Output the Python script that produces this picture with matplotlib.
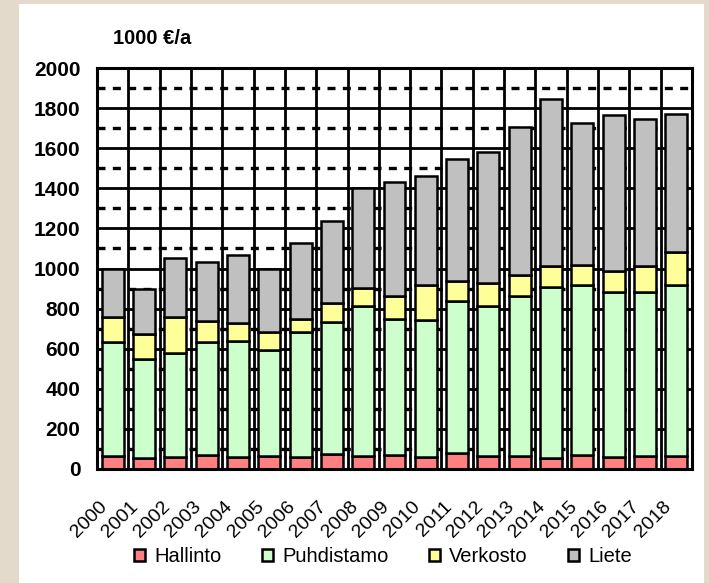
import numpy as np
import matplotlib
matplotlib.use('Agg')
import matplotlib.pyplot as plt
import matplotlib.transforms as mtransforms
from matplotlib.patches import Rectangle, Patch

plt.rcParams['font.family'] = ['Liberation Sans', 'DejaVu Sans']

years = [str(y) for y in range(2000, 2019)]
series = ['Hallinto', 'Puhdistamo', 'Verkosto', 'Liete']
hallinto = [66, 56, 61, 70, 61, 63, 61, 75, 63, 70, 61, 78, 65, 65, 56, 70, 61, 65, 65]
puhdistamo = [569, 491, 519, 565, 579, 531, 624, 660, 752, 678, 682, 760, 748, 799, 853, 849, 820, 816, 853]
verkosto = [121, 125, 176, 105, 90, 88, 62, 91, 87, 115, 177, 100, 113, 102, 105, 98, 108, 133, 166]
liete = [240, 227, 298, 294, 337, 314, 382, 409, 500, 570, 541, 607, 655, 741, 831, 710, 777, 732, 687]
colors = ['#FF8080', '#CCFFCC', '#FFFF99', '#C0C0C0']
y_ticks = list(range(0, 2001, 200))

W, H = 709, 583
fig = plt.figure(figsize=(W / 100, H / 100), dpi=100)
fig.patch.set_facecolor('#E3DACB')
# white panel
fig.patches.append(Rectangle((19 / W, 0), (704 - 19) / W, (583 - 4) / H,
                             transform=fig.transFigure, facecolor='white',
                             edgecolor='none', zorder=-5))

ax = fig.add_axes([97 / W, (H - 469) / H, (692 - 97) / W, (469 - 68) / H])
ax.set_zorder(2)
ax.set_facecolor('white')
x = np.arange(len(years))

# grid
for v in range(100, 2000, 200):
    ax.axhline(v, color='black', lw=2.4, ls=(0, (2.4, 2.2)), zorder=1)
for v in range(200, 2000, 200):
    ax.axhline(v, color='black', lw=2, zorder=1)
for b in np.arange(0.5, len(years) - 1, 1):
    ax.axvline(b, color='black', lw=2, zorder=1)

bottom = np.zeros(len(years))
for name, vals, c in zip(series, [hallinto, puhdistamo, verkosto, liete], colors):
    ax.bar(x, vals, width=0.7, bottom=bottom, color=c, edgecolor='black',
           linewidth=1.8, zorder=2, label=name)
    bottom += np.array(vals)

ax.set_xlim(-0.5, len(years) - 0.5)
ax.set_ylim(0, 2000)
ax.set_yticks(y_ticks)
ax.set_yticklabels([str(v) for v in y_ticks], fontweight='bold', fontsize=15)
ax.set_xticks(x)
ax.set_xticklabels(years, rotation=45, ha='right', va='center',
                   rotation_mode='anchor', fontsize=14)
ax.tick_params(axis='y', length=0, pad=12)
ax.tick_params(axis='x', length=0, pad=25)
shift = mtransforms.ScaledTranslation(-0.08, 0, fig.dpi_scale_trans)
for lab in ax.get_xticklabels():
    lab.set_transform(lab.get_transform() + shift)
for s in ax.spines.values():
    s.set_linewidth(2.2)
    s.set_zorder(3)

fig.text(113 / W, (H - 38) / H, '1000 €/a', fontsize=14.5, fontweight='bold',
         va='center', ha='left')

handles = [Patch(facecolor=c, edgecolor='black', linewidth=1.8) for c in colors]
fig.legend(handles, series, loc='center', bbox_to_anchor=(383 / W, (H - 557) / H),
           ncol=4, frameon=False, fontsize=14.5, handlelength=0.55, handleheight=0.55,
           handletextpad=0.45, columnspacing=2.0)

fig.savefig('out.png', dpi=100, facecolor=fig.get_facecolor())
